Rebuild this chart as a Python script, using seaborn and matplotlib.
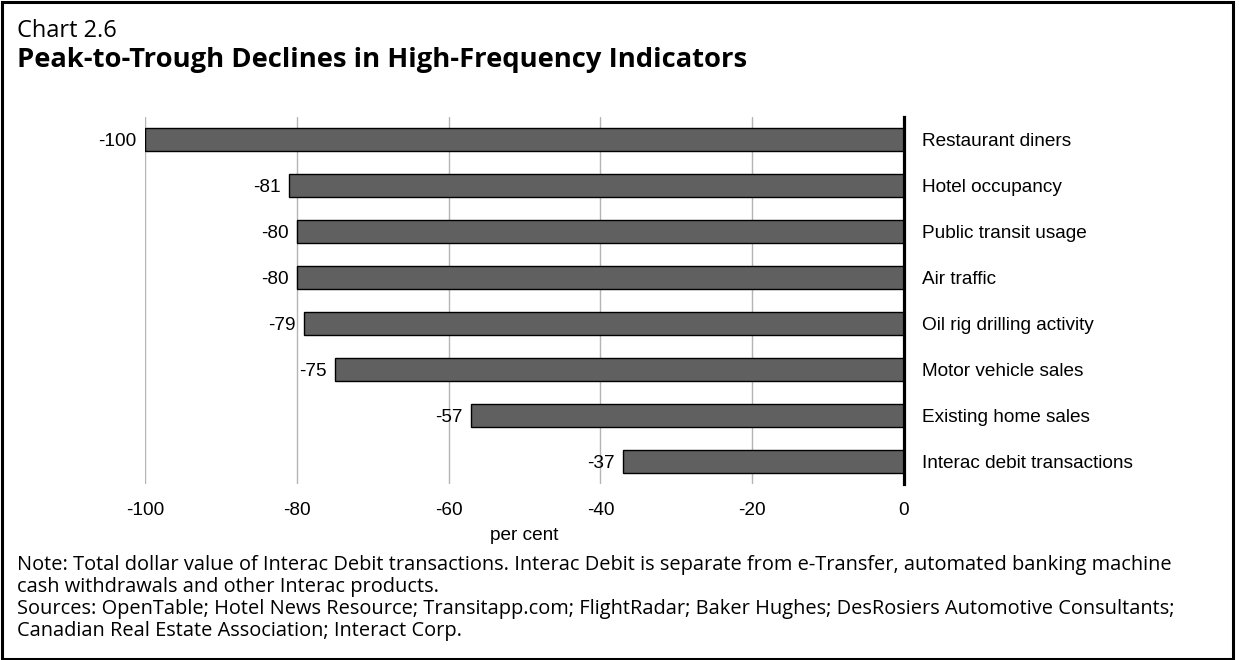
"""
Chart 2.6 - Peak-to-Trough Declines in High-Frequency Indicators.
Barras horizontais com rótulos à direita do eixo zero.
"""
import matplotlib
matplotlib.use("Agg")
import matplotlib.pyplot as plt
import matplotlib.patches as mpatches
import pandas as pd
import seaborn as sns

# Dados
indicators = [
    "Restaurant diners",
    "Hotel occupancy",
    "Public transit usage",
    "Air traffic",
    "Oil rig drilling activity",
    "Motor vehicle sales",
    "Existing home sales",
    "Interac debit transactions",
]
declines = [-100, -81, -80, -80, -79, -75, -57, -37]
x_ticks = [-100, -80, -60, -40, -20, 0]

chart_number = "Chart 2.6"
chart_title = "Peak-to-Trough Declines in High-Frequency Indicators"
note_lines = [
    "Note: Total dollar value of Interac Debit transactions. Interac Debit is separate from e-Transfer, automated banking machine",
    "cash withdrawals and other Interac products.",
    "Sources: OpenTable; Hotel News Resource; Transitapp.com; FlightRadar; Baker Hughes; DesRosiers Automotive Consultants;",
    "Canadian Real Estate Association; Interact Corp.",
]

df = pd.DataFrame({"indicator": indicators, "decline": declines})

sns.set_theme(style="white")
plt.rcParams["font.family"] = ["Liberation Sans", "DejaVu Sans"]

W, H = 1239, 660
fig = plt.figure(figsize=(W / 100, H / 100), dpi=100)
ax = fig.add_axes([145 / W, 1 - 484 / H, (904 - 145) / W, (484 - 117) / H])

sns.barplot(data=df, x="decline", y="indicator", orient="h", order=indicators,
            color="#606060", saturation=1, width=0.5, edgecolor="black",
            linewidth=1.0, ax=ax)

ax.set_xlim(-100, 0)
ax.set_xticks(x_ticks)
ax.set_xticklabels([str(t) for t in x_ticks])
ax.grid(axis="x", color="#b4b4b4", linewidth=1.0)
ax.grid(axis="y", visible=False)
ax.set_axisbelow(True)

for side in ["top", "bottom", "left"]:
    ax.spines[side].set_visible(False)
ax.spines["right"].set_color("black")
ax.spines["right"].set_linewidth(2.3)

fs = 13.7
ax.yaxis.tick_right()
ax.tick_params(axis="y", length=0, pad=13, labelsize=fs, labelcolor="black")
ax.tick_params(axis="x", length=0, pad=13, labelsize=fs, labelcolor="black")
ax.set_ylabel("")
ax.set_xlabel("per cent", fontsize=fs, color="black", labelpad=6)

# Valores nas barras
labels = ax.bar_label(ax.containers[0], fmt="%d", padding=6, fontsize=fs,
                      color="black")
for t in labels:
    t.set_va("center_baseline")

# Títulos e notas
seg = ["Open Sans", "DejaVu Sans"]
fig.text(17 / W, 1 - 37 / H, chart_number, family=seg, fontsize=17,
         va="baseline", ha="left", color="black")
fig.text(17 / W, 1 - 67 / H, chart_title, family=seg, fontsize=19.7,
         fontweight="bold", va="baseline", ha="left", color="black")
for i, line in enumerate(note_lines):
    fig.text(17 / W, 1 - (570 + i * 22) / H, line, family=seg, fontsize=14.45,
             va="baseline", ha="left", color="black")

# Moldura
fig.add_artist(mpatches.Rectangle((1.5 / W, 1.5 / H), (1233 - 1.5) / W, (H - 3) / H,
                                  transform=fig.transFigure, fill=False,
                                  edgecolor="black", linewidth=2.2))

fig.savefig("out.png", dpi=100)
